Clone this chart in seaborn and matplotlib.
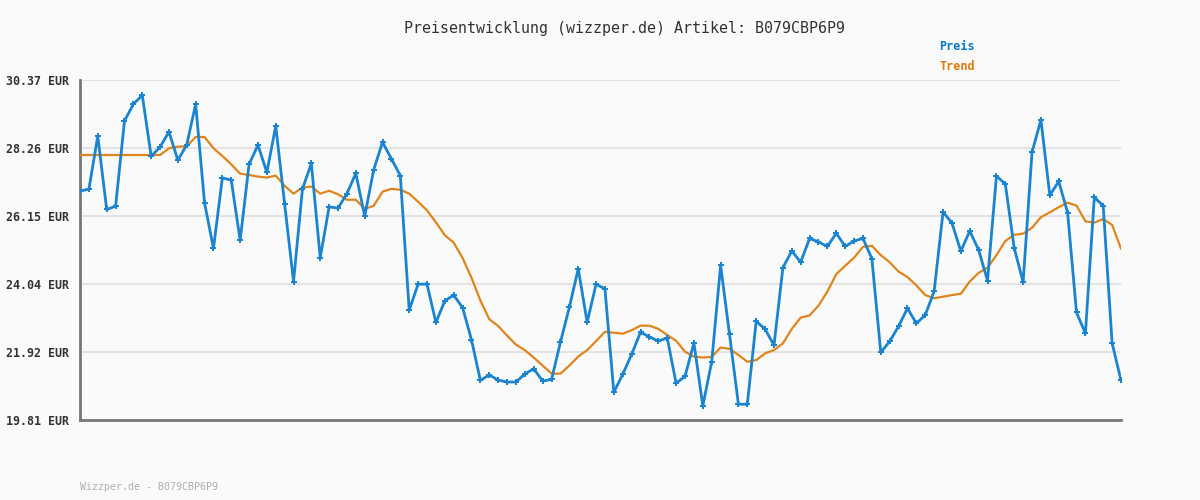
import numpy as np
import pandas as pd
import seaborn as sns
import matplotlib
matplotlib.use('Agg')
import matplotlib.pyplot as plt

sns.set_theme(style='white')
plt.rcParams['font.family'] = ['DejaVu Sans Mono', 'DejaVu Sans']

TITLE = 'Preisentwicklung (wizzper.de) Artikel: B079CBP6P9'
FOOTER = 'Wizzper.de - B079CBP6P9'

preis = [26.92, 26.98, 28.63, 26.35, 26.45, 29.10, 29.62, 29.90, 28.00, 28.29,
         28.76, 27.88, 28.36, 29.62, 26.55, 25.14, 27.33, 27.26, 25.39, 27.75,
         28.35, 27.50, 28.94, 26.52, 24.11, 26.98, 27.78, 24.85, 26.43, 26.39,
         26.84, 27.47, 26.14, 27.57, 28.44, 27.92, 27.40, 23.22, 24.03, 24.03,
         22.84, 23.51, 23.69, 23.30, 22.30, 21.04, 21.21, 21.05, 20.99, 20.99,
         21.24, 21.40, 21.02, 21.07, 22.23, 23.31, 24.51, 22.84, 24.03, 23.88,
         20.67, 21.23, 21.85, 22.54, 22.39, 22.26, 22.36, 20.95, 21.17, 22.20,
         20.25, 21.62, 24.61, 22.47, 20.30, 20.30, 22.88, 22.63, 22.13, 24.54,
         25.06, 24.71, 25.45, 25.34, 25.20, 25.61, 25.20, 25.37, 25.45, 24.82,
         21.91, 22.25, 22.72, 23.28, 22.81, 23.07, 23.81, 26.27, 25.93, 25.05,
         25.68, 25.09, 24.14, 27.39, 27.14, 25.15, 24.09, 28.13, 29.13, 26.79,
         27.22, 26.25, 23.15, 22.50, 26.73, 26.46, 22.20, 21.04]

trend = [28.04, 28.04, 28.04, 28.04, 28.04, 28.04, 28.04, 28.04, 28.04, 28.04,
         28.25, 28.30, 28.31, 28.60, 28.60, 28.25, 28.01, 27.75, 27.46, 27.42,
         27.37, 27.34, 27.40, 27.08, 26.84, 27.03, 27.06, 26.84, 26.93, 26.82,
         26.65, 26.65, 26.37, 26.46, 26.90, 26.99, 26.96, 26.84, 26.59, 26.32,
         25.95, 25.55, 25.32, 24.84, 24.23, 23.52, 22.94, 22.73, 22.43, 22.15,
         21.98, 21.75, 21.50, 21.25, 21.25, 21.50, 21.78, 21.98, 22.26, 22.55,
         22.52, 22.49, 22.60, 22.74, 22.74, 22.64, 22.45, 22.27, 21.93, 21.78,
         21.75, 21.77, 22.06, 22.02, 21.83, 21.62, 21.67, 21.88, 21.98, 22.19,
         22.64, 22.99, 23.06, 23.36, 23.80, 24.34, 24.60, 24.85, 25.19, 25.22,
         24.93, 24.71, 24.42, 24.25, 23.99, 23.69, 23.59, 23.64, 23.69, 23.73,
         24.11, 24.38, 24.54, 24.93, 25.37, 25.56, 25.60, 25.78, 26.11, 26.26,
         26.42, 26.56, 26.47, 25.98, 25.94, 26.05, 25.87, 25.13]

y_ticks = [19.81, 21.92, 24.04, 26.15, 28.26, 30.37]
y_labels = ['19.81 EUR', '21.92 EUR', '24.04 EUR', '26.15 EUR', '28.26 EUR', '30.37 EUR']

BG = '#fafafa'
BLUE = '#1a84d0'
ORANGE = '#e0851c'

df = pd.DataFrame({'idx': np.arange(len(preis)), 'preis': preis, 'trend': trend})

fig = plt.figure(figsize=(12, 5), dpi=100, facecolor=BG)
ax = fig.add_axes([80 / 1200, 80 / 500, 1041 / 1200, 340 / 500])
ax.set_facecolor(BG)

sns.lineplot(data=df, x='idx', y='trend', color=ORANGE, linewidth=1.6, ax=ax, zorder=3)
sns.lineplot(data=df, x='idx', y='preis', color=BLUE, linewidth=2.0, marker='P',
             markersize=4.5, markeredgewidth=0, ax=ax, zorder=4)

ax.set_xlim(0, len(preis) - 1)
ax.set_ylim(y_ticks[0], y_ticks[-1])
ax.set_yticks(y_ticks)
ax.set_yticklabels(y_labels, fontsize=8.4, fontweight='bold', color='#333333')
ax.set_xticks([])
ax.tick_params(axis='y', length=0, pad=8)
ax.set(xlabel='', ylabel='')
ax.grid(axis='y', color='#e3e3e3', linewidth=1.5, zorder=0)

for side in ['top', 'right']:
    ax.spines[side].set_visible(False)
for side in ['left', 'bottom']:
    ax.spines[side].set_color('#777777')
    ax.spines[side].set_linewidth(2)

fig.text(624 / 1200, 1 - 28 / 500, TITLE, ha='center', va='center', fontsize=10.8, color='#333333')
fig.text(957 / 1200, 1 - 47 / 500, 'Preis', ha='center', va='center', fontsize=8.5,
         fontweight='bold', color='#0a78c8')
fig.text(957 / 1200, 1 - 67 / 500, 'Trend', ha='center', va='center', fontsize=8.5,
         fontweight='bold', color='#dc7a0c')
fig.text(80 / 1200, 1 - 487 / 500, FOOTER, ha='left', va='center', fontsize=7.2, color='#b0b0b0')

fig.savefig('out.png', dpi=100, facecolor=BG)
